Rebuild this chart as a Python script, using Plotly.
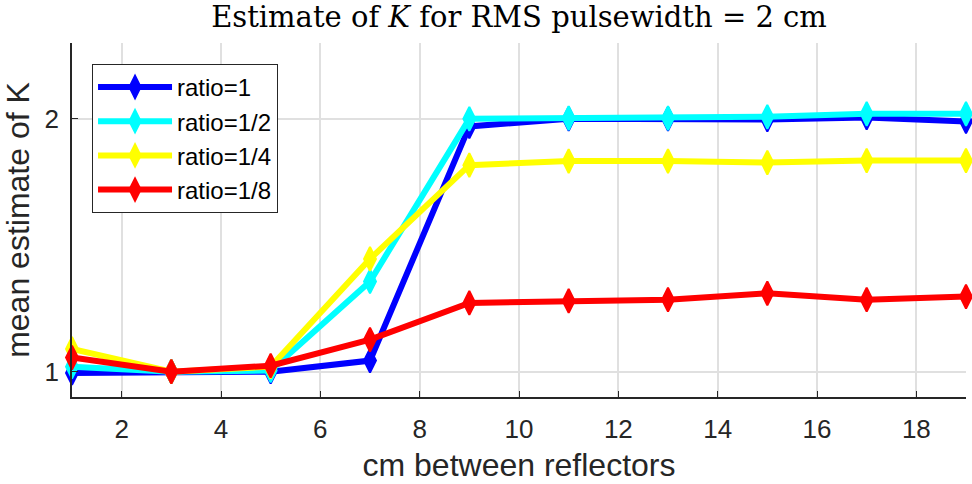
import plotly.graph_objects as go

# Reflector spacing (cm)
spacing = [1, 3, 5, 7, 9, 11, 13, 15, 17, 19]

# Mean estimate of K for each amplitude ratio
k_ratio_1 = [0.995, 1.0, 1.0, 1.044, 1.97, 2.0, 2.0, 1.997, 2.005, 1.99]
k_ratio_1_2 = [1.02, 1.0, 1.005, 1.357, 2.0, 2.003, 2.003, 2.008, 2.02, 2.02]
k_ratio_1_4 = [1.09, 1.0, 1.02, 1.446, 1.817, 1.833, 1.833, 1.827, 1.835, 1.835]
k_ratio_1_8 = [1.056, 1.0, 1.024, 1.127, 1.272, 1.28, 1.285, 1.31, 1.285, 1.297]

series = [
    ("ratio=1", k_ratio_1, "#0000ff"),
    ("ratio=1/2", k_ratio_1_2, "#00ffff"),
    ("ratio=1/4", k_ratio_1_4, "#ffff00"),
    ("ratio=1/8", k_ratio_1_8, "#ff0000"),
]

fig = go.Figure()
for name, vals, color in series:
    fig.add_trace(go.Scatter(
        x=spacing, y=vals, name=name, mode="lines+markers",
        line=dict(color=color, width=6),
        marker=dict(symbol="diamond-tall", size=17, color=color,
                    line=dict(color=color, width=2)),
        cliponaxis=False,
    ))

sans = "Liberation Sans, Arial, sans-serif"
ink = "#262626"
tick_font = dict(family=sans, size=26, color=ink)
label_font = dict(family=sans, size=32, color=ink)

fig.update_layout(
    width=972, height=484,
    margin=dict(l=72, r=6, t=43, b=87),
    paper_bgcolor="white", plot_bgcolor="white",
    title=dict(
        text="Estimate of <i>K</i> for RMS pulsewidth = 2 cm",
        font=dict(family="DejaVu Serif, serif", size=29, color="black"),
        x=0.5, xref="paper", xanchor="center",
        yref="container", y=0.966, yanchor="middle",
    ),
    showlegend=True,
    legend=dict(
        x=0.0224, y=0.941, xanchor="left", yanchor="top",
        bgcolor="white", bordercolor=ink, borderwidth=1,
        font=dict(family=sans, size=24, color="black"),
        itemwidth=74, tracegroupgap=0,
    ),
    xaxis=dict(
        range=[1, 19], tickvals=[2, 4, 6, 8, 10, 12, 14, 16, 18],
        ticks="inside", ticklen=6, tickcolor=ink, tickwidth=1,
        showline=True, linecolor=ink, linewidth=1.5,
        showgrid=True, gridcolor="#e0e0e0", gridwidth=1.5,
        zeroline=False, tickfont=tick_font, ticklabelstandoff=8,
        title=dict(text="cm between reflectors", font=label_font, standoff=11),
    ),
    yaxis=dict(
        range=[0.9, 2.3], tickvals=[1, 2],
        ticks="inside", ticklen=6, tickcolor=ink, tickwidth=1,
        showline=True, linecolor=ink, linewidth=1.5,
        showgrid=True, gridcolor="#e0e0e0", gridwidth=1.5,
        zeroline=False, tickfont=tick_font, ticklabelstandoff=6,
        title=dict(text="mean estimate of K", font=label_font, standoff=6),
    ),
)

fig.write_html("out.html")
